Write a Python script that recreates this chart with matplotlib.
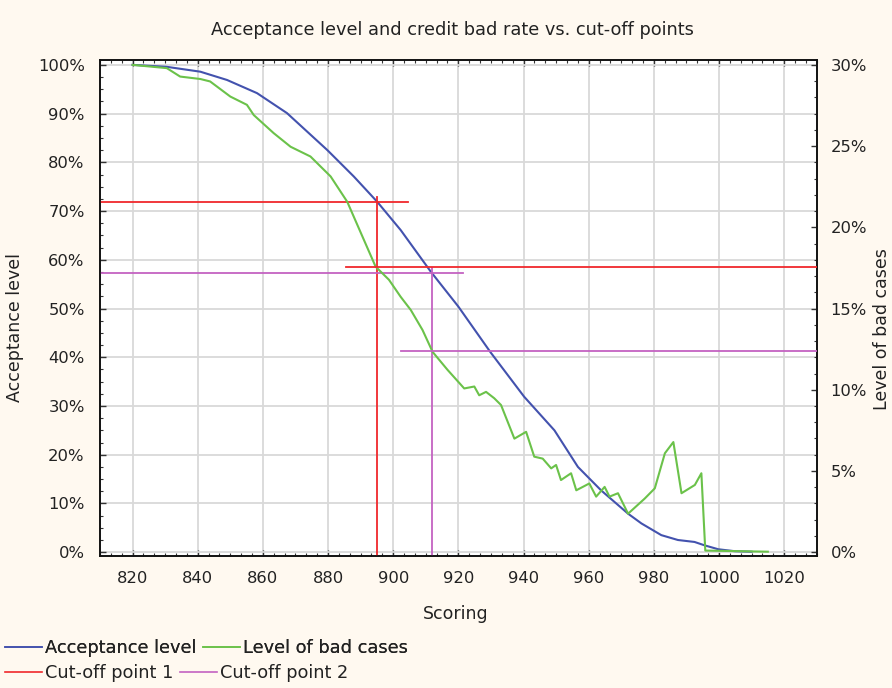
import matplotlib.pyplot as plt
from matplotlib.ticker import AutoMinorLocator, FuncFormatter, MultipleLocator
from matplotlib.lines import Line2D

plt.rcParams['font.family'] = ['DejaVu Sans']

# Acceptance level (left axis, %)
accept_x = [820, 830.5, 840.8, 849, 858.2, 867.4, 879.8, 887.9, 895.1, 902.3, 911.5, 920,
            929.9, 940.2, 949.5, 956.7, 963.8, 972.1, 976.2, 982.3, 987.4, 992.5, 995.6,
            999.8, 1004.9, 1010]
accept_y = [100, 99.6, 98.6, 96.9, 94.2, 90.1, 82.5, 77.1, 71.9, 66.1, 57.6, 50.4,
            41.0, 31.9, 25.0, 17.5, 12.7, 7.9, 5.9, 3.5, 2.5, 2.1, 1.4,
            0.6, 0.2, 0.1]

# Level of bad cases (right axis, %)
bad_x = [820, 830.5, 834.6, 840.8, 843.8, 850, 855.1, 857.2, 863.3, 868.5, 874.6, 880.8,
         885.9, 891, 894.6, 898.7, 902.3, 905.4, 909, 912.1, 916.7, 921.8, 924.9, 926.4,
         928.5, 931, 933.1, 937.2, 940.8, 943.3, 945.9, 948.5, 950, 951.5, 954.6, 956.2,
         960.2, 962.3, 964.9, 966.4, 969, 972.1, 977.2, 980.3, 983.4, 986, 988.5, 992.6,
         994.6, 995.8, 1015]
bad_y = [30.0, 29.8, 29.28, 29.13, 28.98, 28.05, 27.54, 26.91, 25.8, 24.96, 24.36, 23.13,
         21.57, 19.23, 17.58, 16.77, 15.72, 14.91, 13.68, 12.33, 11.22, 10.08, 10.2, 9.66,
         9.87, 9.48, 9.06, 6.99, 7.41, 5.88, 5.76, 5.16, 5.37, 4.44, 4.86, 3.81,
         4.23, 3.42, 4.02, 3.42, 3.63, 2.37, 3.3, 3.93, 6.09, 6.78, 3.63, 4.14,
         4.86, 0.1, 0.03]

# cut-off points: score, acceptance level, bad rate
cut_labels = ['Cut-off point 1', 'Cut-off point 2']
cut_scores = [895, 911.8]
cut_accept = [71.9, 57.3]
cut_bad = [17.55, 12.4]
cut_colors = ['#F0282C', '#C462C2']

blue = '#4352AE'
green = '#6BC24A'
arm = 9.5
txt = '#222222'

fig = plt.figure(figsize=(8.92, 6.88), dpi=100, facecolor='#FFF9F0')
ax = fig.add_axes([100 / 892, 1 - 555.6 / 688, 716.7 / 892, 495.6 / 688])
ax.set_facecolor('white')
ax2 = ax.twinx()

ylo, yhi = -0.7, 101.0
ax.set_xlim(810, 1030)
ax.set_ylim(ylo, yhi)
ax2.set_ylim(ylo * 0.3, yhi * 0.3)

ax.grid(True, color='#D9D9D9', linewidth=1.3)
ax.set_axisbelow(True)

ax.plot(accept_x, accept_y, color=blue, linewidth=1.5, zorder=3)
ax2.plot(bad_x, bad_y, color=green, linewidth=1.5, zorder=3)

for s, a, b, c in zip(cut_scores, cut_accept, cut_bad, cut_colors):
    ax.plot([810, s + arm], [a, a], color=c, linewidth=1.3, zorder=4)
    ax.plot([s, s], [ylo, a + 1.0], color=c, linewidth=1.3, zorder=4)
    ax2.plot([s - arm, 1030], [b, b], color=c, linewidth=1.3, zorder=4)

ax.xaxis.set_major_locator(MultipleLocator(20))
ax.xaxis.set_minor_locator(AutoMinorLocator(6))
ax.yaxis.set_major_locator(MultipleLocator(10))
ax.yaxis.set_minor_locator(AutoMinorLocator(4))
ax2.yaxis.set_major_locator(MultipleLocator(5))
ax2.yaxis.set_minor_locator(AutoMinorLocator(5))
ax.yaxis.set_major_formatter(FuncFormatter(lambda v, p: f'{v:.0f}%'))
ax2.yaxis.set_major_formatter(FuncFormatter(lambda v, p: f'{v:.0f}%'))

ax.tick_params(which='both', direction='in', top=True, color='#333333', labelsize=11.8,
               labelcolor=txt)
ax.tick_params(which='major', length=4, width=1, pad=11)
ax.tick_params(which='minor', length=2.5, width=0.8)
ax2.tick_params(which='both', direction='in', color='#333333', labelsize=11.8,
                labelcolor=txt)
ax2.tick_params(which='major', length=4, width=1, pad=10)
ax2.tick_params(which='minor', length=2.5, width=0.8)
for a in (ax, ax2):
    for sp in a.spines.values():
        sp.set_color('#111111')
        sp.set_linewidth(1.2)

fig.text(452 / 892, 1 - 30 / 688, 'Acceptance level and credit bad rate vs. cut-off points',
         ha='center', va='center', fontsize=12.8, color=txt)
fig.text(456 / 892, 1 - 614 / 688, 'Scoring', ha='center', va='center', fontsize=12.5,
         color=txt)
fig.text(15 / 892, 1 - 327 / 688, 'Acceptance level', ha='center', va='center',
         rotation=90, fontsize=12.5, color=txt)
fig.text(873 / 892, 1 - 329 / 688, 'Level of bad cases', ha='left', va='center',
         rotation=90, fontsize=12.5, color=txt)

row1 = [Line2D([], [], color=blue, linewidth=1.2), Line2D([], [], color=green, linewidth=1.2)]
row2 = [Line2D([], [], color=cut_colors[0], linewidth=1.2),
        Line2D([], [], color=cut_colors[1], linewidth=1.2)]
leg_kw = dict(ncol=2, frameon=False, fontsize=12.8, handlelength=2.1, handletextpad=0.15,
              columnspacing=0.35, borderaxespad=0, borderpad=0, labelcolor=txt)
leg1 = fig.legend(row1, ['Acceptance level', 'Level of bad cases'], loc='center left',
                  bbox_to_anchor=(5 / 892, 1 - 648 / 688), **leg_kw)
fig.add_artist(leg1)
fig.legend(row2, cut_labels, loc='center left', bbox_to_anchor=(5 / 892, 1 - 673 / 688),
           **leg_kw)

fig.savefig('out.png', dpi=100, facecolor=fig.get_facecolor())
